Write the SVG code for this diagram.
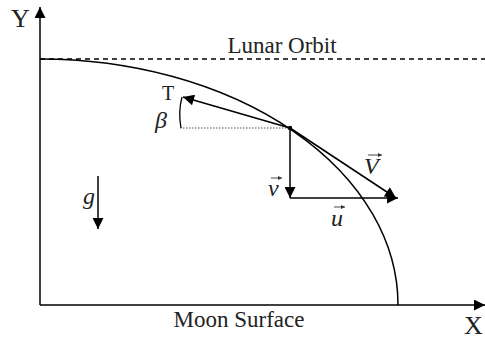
<svg xmlns="http://www.w3.org/2000/svg" width="485" height="340" viewBox="0 0 485 340">
<defs>
<style>
.ln{stroke:#000;stroke-width:1.5;fill:none}
.t{font-family:"Liberation Serif","Times New Roman",serif;fill:#222}
.i{font-style:italic}
.va{stroke:#333;stroke-width:0.9;fill:none}
</style>
<marker id="ahb" viewBox="0 0 10 10" refX="10" refY="5" markerWidth="16" markerHeight="11" markerUnits="userSpaceOnUse" orient="auto"><path d="M0,0 L10,5 L0,10 z" fill="#000"/></marker>
<marker id="sa" viewBox="0 0 10 10" refX="10" refY="5" markerWidth="4" markerHeight="4" markerUnits="userSpaceOnUse" orient="auto"><path d="M0,0 L10,5 L0,10 z" fill="#333"/></marker>
</defs>
<rect width="485" height="340" fill="#fff"/>
<g id="connectors">
<line class="ln" x1="40" y1="305" x2="40" y2="7" marker-end="url(#ahb)"/>
<line class="ln" x1="40" y1="305" x2="485" y2="305" marker-end="url(#ahb)"/>
<line x1="40" y1="59" x2="485" y2="59" stroke="#000" stroke-width="1.3" stroke-dasharray="5,4"/>
<path class="ln" d="M40,59 A358,246 0 0 1 398,305"/>
<line x1="180" y1="128" x2="290" y2="128" stroke="#555" stroke-width="1" stroke-dasharray="1.5,1.5"/>
<line class="ln" x1="290" y1="128" x2="183" y2="97" marker-end="url(#ahb)"/>
<path d="M182,97 Q178,112 181,128" stroke="#000" stroke-width="1.3" fill="none"/>
<line class="ln" x1="290" y1="128" x2="290" y2="198" stroke="#333" marker-end="url(#ahb)"/>
<line class="ln" x1="290" y1="198" x2="398" y2="198" stroke="#333" marker-end="url(#ahb)"/>
<line class="ln" x1="290" y1="128" x2="396" y2="198" marker-end="url(#ahb)"/>
<line class="ln" x1="98" y1="176" x2="98" y2="229" marker-end="url(#ahb)"/>
<circle cx="290" cy="128" r="2.2" fill="#000"/>
</g>
<g id="labels">
<text class="t" x="11" y="27" font-size="26">Y</text>
<text class="t" x="464" y="334" font-size="26">X</text>
<text class="t" x="282" y="53" font-size="23" text-anchor="middle">Lunar Orbit</text>
<text class="t" x="239" y="327" font-size="23" text-anchor="middle">Moon Surface</text>
<text class="t" x="162" y="100" font-size="20">T</text>
<text class="t i" x="155" y="128" font-size="24">β</text>
<text class="t i" x="83" y="204" font-size="24">g</text>
<text class="t i" x="268" y="196" font-size="24">v</text>
<line class="va" x1="271" y1="178" x2="282" y2="178" marker-end="url(#sa)"/>
<text class="t i" x="331" y="226" font-size="24">u</text>
<line class="va" x1="334" y1="207" x2="345" y2="207" marker-end="url(#sa)"/>
<text class="t i" x="364" y="174" font-size="24">V</text>
<line class="va" x1="368" y1="155" x2="382" y2="155" marker-end="url(#sa)"/>
</g>
</svg>
